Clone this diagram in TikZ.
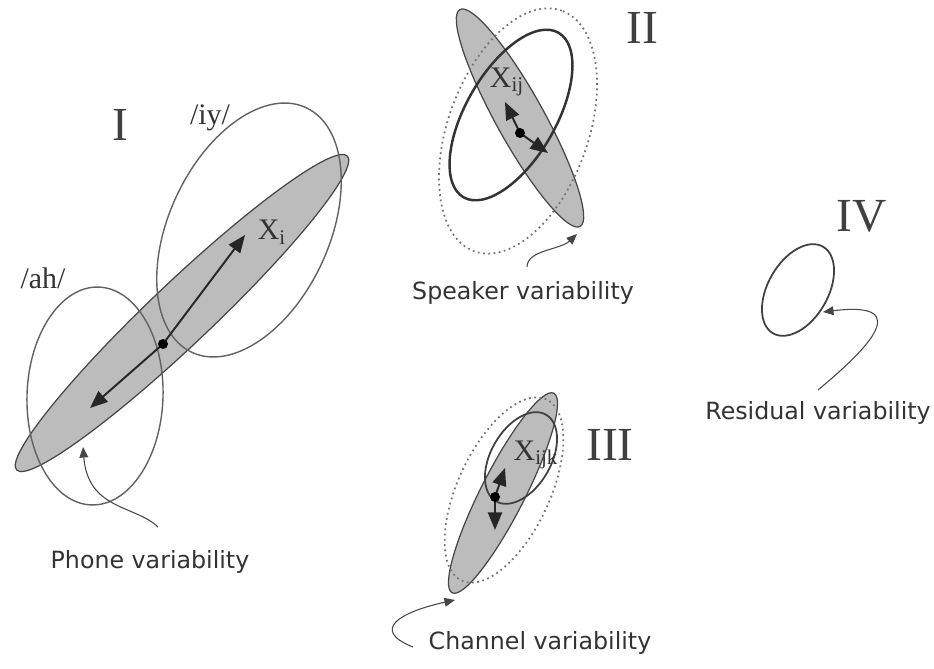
\documentclass[tikz,border=0pt]{standalone}
\usepackage{fontspec}
\setmainfont{Liberation Serif}
\newfontfamily\capfont{DejaVu Sans}
\usepackage{tikz}
\usetikzlibrary{arrows.meta,positioning}

\definecolor{cloudgray}{RGB}{188,188,188}
\definecolor{inkgray}{RGB}{70,70,70}

\begin{document}
\begin{tikzpicture}[
  x=0.02cm, y=0.02cm,
  cloud/.style={
    fill=cloudgray, draw=inkgray, line width=0.7pt
  },
  ring/.style={
    draw=inkgray!85, line width=0.8pt
  },
  boldring/.style={
    draw=black!80, line width=1.4pt
  },
  dotring/.style={
    draw=black!55, line width=1pt, dotted
  },
  vec/.style={
    -{Triangle[length=10pt,width=8pt]},
    line width=1.1pt, black!85
  },
  pointer/.style={
    -{Triangle[length=6pt,width=5pt]},
    line width=0.6pt, inkgray
  },
  numeral/.style={
    font=\fontsize{27}{30}\selectfont, text=black!75, inner sep=0pt
  },
  vlabel/.style={
    font=\fontsize{17}{20}\selectfont, text=black!80, inner sep=0pt
  },
  caption/.style={
    font=\capfont\fontsize{13.5}{16}\selectfont, text=black!80, inner sep=1pt
  }
]
\useasboundingbox (0,0) rectangle (934,-669);

% ==================== I: PHONE ====================

\draw [cloud] (182,-313) ellipse [x radius=228, y radius=31, rotate=43.5];
\draw [ring] (249,-230) ellipse [x radius=135, y radius=80, rotate=65];
\draw [ring] (95,-396) ellipse [x radius=109, y radius=68, rotate=88];

\coordinate (mI) at (163,-344);
\coordinate (hiI) at (245,-235);
\coordinate (loI) at (90,-408);
\draw [vec] (mI) -- (hiI);
\draw [vec] (mI) -- (loI);
\fill [black] (mI) circle [radius=5];

\node (nI) [numeral] at (120,-125) {I};
\node (iy) [vlabel] at (210,-118) {/iy/};
\node (ah) [vlabel] at (43,-278) {/ah/};
\node (xI) [vlabel] at (272,-232) {X\textsubscript{i}};

% ==================== II: SPEAKER ====================

\draw [cloud] (520,-118) ellipse [x radius=124, y radius=24, rotate=-61];
\draw [boldring] (511,-115) ellipse [x radius=95, y radius=45, rotate=60];
\draw [dotring] (518,-131) ellipse [x radius=128, y radius=70, rotate=70];

\coordinate (mII) at (520,-133);
\coordinate (hiII) at (505,-102);
\coordinate (loII) at (548,-153);
\draw [vec] (mII) -- (hiII);
\draw [vec] (mII) -- (loII);
\fill [black] (mII) circle [radius=5];

\node (nII) [numeral] at (642,-28) {II};
\node (xII) [vlabel] at (507,-82) {X\textsubscript{ij}};

% ==================== III: CHANNEL ====================

\draw [cloud] (503,-493) ellipse [x radius=112, y radius=22, rotate=63];
\draw [ring, draw=black!75, line width=1pt] (521,-458) ellipse [x radius=50, y radius=30, rotate=60];
\draw [dotring] (504,-490) ellipse [x radius=100, y radius=46, rotate=65];

\coordinate (mIII) at (495,-497);
\coordinate (hiIII) at (505,-468);
\coordinate (loIII) at (495,-530);
\draw [vec] (mIII) -- (hiIII);
\draw [vec] (mIII) -- (loIII);
\fill [black] (mIII) circle [radius=5];

\node (nIII) [numeral] at (610,-445) {III};
\node (xIII) [vlabel] at (536,-455) {X\textsubscript{ijk}};

% ==================== IV: RESIDUAL ====================

\draw [ring, draw=black!75, line width=1pt] (798,-290) ellipse [x radius=50, y radius=30, rotate=60];

\node (nIV) [numeral] at (862,-216) {IV};

% ==================== CAPTIONS ====================

\node (phone) [caption] at (150,-562) {Phone variability};
\node (speaker) [caption] at (523,-293) {Speaker variability};
\node (channel) [caption] at (540,-643) {Channel variability};
\node (residual) [caption] at (818,-413) {Residual variability};

% pointer ends
\coordinate (tailP) at (158,-527);
\coordinate (tipP) at (83,-447);
\coordinate (tailS) at (527,-267);
\coordinate (tipS) at (577,-234);
\coordinate (tailC) at (413,-647);
\coordinate (tipC) at (455,-600);
\coordinate (tailR) at (818,-390);
\coordinate (tipR) at (823,-312);

\draw [pointer] (tailP) .. controls (135,-505) and (88,-510) .. (tipP);
\draw [pointer] (tailS) .. controls (527,-250) and (560,-250) .. (tipS);
\draw [pointer] (tailC) .. controls (370,-630) and (400,-612) .. (tipC);
\draw [pointer] (tailR) .. controls (860,-355) and (920,-300) .. (tipR);

\end{tikzpicture}
\end{document}
